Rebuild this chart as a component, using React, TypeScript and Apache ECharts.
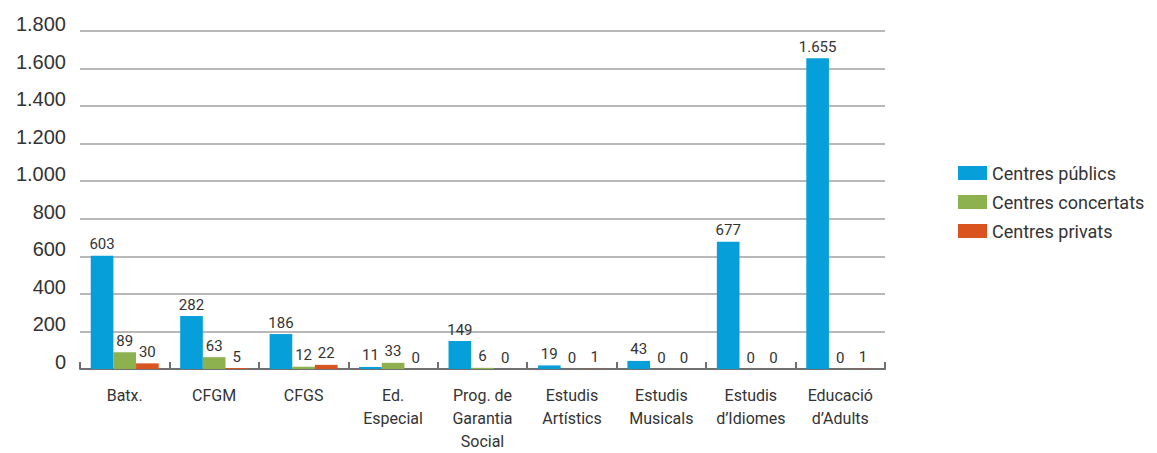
import React, { useEffect, useRef } from "react";
import * as echarts from "echarts";

const categories = [
  "Batx.",
  "CFGM",
  "CFGS",
  "Ed.\nEspecial",
  "Prog. de\nGarantia\nSocial",
  "Estudis\nArtístics",
  "Estudis\nMusicals",
  "Estudis\nd’Idiomes",
  "Educació\nd’Adults",
];
const seriesNames = ["Centres públics", "Centres concertats", "Centres privats"];
const publics = [603, 282, 186, 11, 149, 19, 43, 677, 1655];
const concertats = [89, 63, 12, 33, 6, 0, 0, 0, 0];
const privats = [30, 5, 22, 0, 0, 1, 0, 0, 1];
const colors = ["#069fda", "#8db14f", "#d9541e"];

const fmt = (v: number) => String(v).replace(/\B(?=(\d{3})+(?!\d))/g, ".");

const NARROW = "Roboto, 'Liberation Sans Narrow', sans-serif";

export default function App() {
  const ref = useRef<HTMLDivElement>(null);
  useEffect(() => {
    if (!ref.current) return;
    document.body.style.margin = "0";
    const chart = echarts.init(ref.current, null, { renderer: "svg" });
    const mk = (name: string, data: number[], color: string) => ({
      name,
      type: "bar",
      data,
      barGap: "0%",
      barCategoryGap: "24%",
      itemStyle: { color },
      label: {
        show: true,
        position: "top",
        distance: 4,
        color: "#333",
        fontFamily: NARROW,
        fontSize: 15,
        formatter: (p: any) => fmt(p.value),
      },
    });
    chart.setOption({
      animation: false,
      grid: { left: 80, right: 272, top: 31, bottom: 82, containLabel: false },
      legend: {
        orient: "vertical",
        left: 953,
        top: 159,
        itemWidth: 29,
        itemHeight: 14,
        itemGap: 11,
        icon: "rect",
        textStyle: { fontFamily: NARROW, fontSize: 18, color: "#333" },
        data: seriesNames,
      },
      xAxis: {
        type: "category",
        data: categories,
        axisLine: { lineStyle: { color: "#707070", width: 2 } },
        axisTick: { show: true, inside: true, length: 7, lineStyle: { color: "#707070", width: 2 } },
        axisLabel: {
          color: "#333",
          fontFamily: NARROW,
          fontSize: 16,
          lineHeight: 23,
          margin: 15,
          interval: 0,
        },
      },
      yAxis: {
        type: "value",
        min: 0,
        max: 1800,
        interval: 200,
        axisLine: { show: false },
        axisTick: { show: false },
        splitLine: { lineStyle: { color: "#a0a0a0", width: 1.5 } },
        axisLabel: {
          color: "#333",
          fontFamily: "'Liberation Sans', Arial, sans-serif",
          fontSize: 20,
          margin: 14,
          verticalAlign: "bottom",
          lineHeight: 14,
          formatter: (v: number) => fmt(v),
        },
      },
      series: [
        mk(seriesNames[0], publics, colors[0]),
        mk(seriesNames[1], concertats, colors[1]),
        mk(seriesNames[2], privats, colors[2]),
      ],
    });
    chart.resize();
    return () => chart.dispose();
  }, []);
  return <div ref={ref} style={{ width: 1157, height: 453 }} />;
}
